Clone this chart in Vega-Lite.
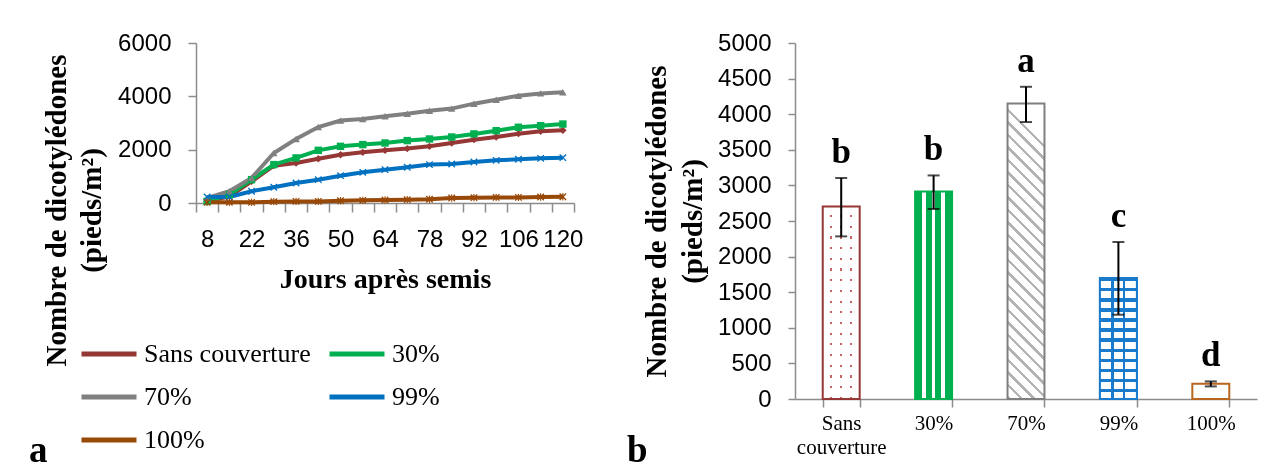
{
  "$schema": "https://vega.github.io/schema/vega-lite/v6.json",
  "autosize": {"type": "pad"},
  "padding": {"left": 29, "top": 31, "right": 17, "bottom": 0},
  "background": "white",
  "bounds": "flush",
  "spacing": 221,
  "config": {
    "view": {"stroke": null},
    "axis": {"domainColor": "#8c8c8c", "tickColor": "#8c8c8c", "domainWidth": 1.5, "tickWidth": 1.5, "grid": false, "labelColor": "black", "titleColor": "black", "labelFlush": false, "labelOverlap": false, "labelBound": false, "labelFont": "Liberation Sans", "labelFontSize": 24, "titleFont": "Liberation Serif", "titleFontWeight": "bold"},
    "legend": {"labelFont": "Liberation Serif", "labelFontSize": 26, "labelColor": "black"}
  },
  "datasets": {
    "lignes": [
      {"jour": 8, "traitement": "Sans couverture", "densite": 60},
      {"jour": 15, "traitement": "Sans couverture", "densite": 250},
      {"jour": 22, "traitement": "Sans couverture", "densite": 810},
      {"jour": 29, "traitement": "Sans couverture", "densite": 1400},
      {"jour": 36, "traitement": "Sans couverture", "densite": 1500},
      {"jour": 43, "traitement": "Sans couverture", "densite": 1660},
      {"jour": 50, "traitement": "Sans couverture", "densite": 1810},
      {"jour": 57, "traitement": "Sans couverture", "densite": 1900},
      {"jour": 64, "traitement": "Sans couverture", "densite": 1975},
      {"jour": 71, "traitement": "Sans couverture", "densite": 2040},
      {"jour": 78, "traitement": "Sans couverture", "densite": 2125},
      {"jour": 85, "traitement": "Sans couverture", "densite": 2250},
      {"jour": 92, "traitement": "Sans couverture", "densite": 2375},
      {"jour": 99, "traitement": "Sans couverture", "densite": 2475},
      {"jour": 106, "traitement": "Sans couverture", "densite": 2600},
      {"jour": 113, "traitement": "Sans couverture", "densite": 2690},
      {"jour": 120, "traitement": "Sans couverture", "densite": 2725},
      {"jour": 8, "traitement": "30%", "densite": 60},
      {"jour": 15, "traitement": "30%", "densite": 310},
      {"jour": 22, "traitement": "30%", "densite": 875},
      {"jour": 29, "traitement": "30%", "densite": 1440},
      {"jour": 36, "traitement": "30%", "densite": 1690},
      {"jour": 43, "traitement": "30%", "densite": 1975},
      {"jour": 50, "traitement": "30%", "densite": 2125},
      {"jour": 57, "traitement": "30%", "densite": 2190},
      {"jour": 64, "traitement": "30%", "densite": 2250},
      {"jour": 71, "traitement": "30%", "densite": 2340},
      {"jour": 78, "traitement": "30%", "densite": 2400},
      {"jour": 85, "traitement": "30%", "densite": 2475},
      {"jour": 92, "traitement": "30%", "densite": 2590},
      {"jour": 99, "traitement": "30%", "densite": 2710},
      {"jour": 106, "traitement": "30%", "densite": 2840},
      {"jour": 113, "traitement": "30%", "densite": 2900},
      {"jour": 120, "traitement": "30%", "densite": 2960},
      {"jour": 8, "traitement": "70%", "densite": 190},
      {"jour": 15, "traitement": "70%", "densite": 440},
      {"jour": 22, "traitement": "70%", "densite": 940},
      {"jour": 29, "traitement": "70%", "densite": 1875},
      {"jour": 36, "traitement": "70%", "densite": 2400},
      {"jour": 43, "traitement": "70%", "densite": 2850},
      {"jour": 50, "traitement": "70%", "densite": 3090},
      {"jour": 57, "traitement": "70%", "densite": 3150},
      {"jour": 64, "traitement": "70%", "densite": 3250},
      {"jour": 71, "traitement": "70%", "densite": 3350},
      {"jour": 78, "traitement": "70%", "densite": 3460},
      {"jour": 85, "traitement": "70%", "densite": 3540},
      {"jour": 92, "traitement": "70%", "densite": 3725},
      {"jour": 99, "traitement": "70%", "densite": 3875},
      {"jour": 106, "traitement": "70%", "densite": 4025},
      {"jour": 113, "traitement": "70%", "densite": 4110},
      {"jour": 120, "traitement": "70%", "densite": 4150},
      {"jour": 8, "traitement": "99%", "densite": 225},
      {"jour": 15, "traitement": "99%", "densite": 225},
      {"jour": 22, "traitement": "99%", "densite": 440},
      {"jour": 29, "traitement": "99%", "densite": 590},
      {"jour": 36, "traitement": "99%", "densite": 750},
      {"jour": 43, "traitement": "99%", "densite": 875},
      {"jour": 50, "traitement": "99%", "densite": 1025},
      {"jour": 57, "traitement": "99%", "densite": 1150},
      {"jour": 64, "traitement": "99%", "densite": 1250},
      {"jour": 71, "traitement": "99%", "densite": 1340},
      {"jour": 78, "traitement": "99%", "densite": 1440},
      {"jour": 85, "traitement": "99%", "densite": 1460},
      {"jour": 92, "traitement": "99%", "densite": 1540},
      {"jour": 99, "traitement": "99%", "densite": 1600},
      {"jour": 106, "traitement": "99%", "densite": 1640},
      {"jour": 113, "traitement": "99%", "densite": 1675},
      {"jour": 120, "traitement": "99%", "densite": 1700},
      {"jour": 8, "traitement": "100%", "densite": 25},
      {"jour": 15, "traitement": "100%", "densite": 25},
      {"jour": 22, "traitement": "100%", "densite": 25},
      {"jour": 29, "traitement": "100%", "densite": 50},
      {"jour": 36, "traitement": "100%", "densite": 60},
      {"jour": 43, "traitement": "100%", "densite": 60},
      {"jour": 50, "traitement": "100%", "densite": 85},
      {"jour": 57, "traitement": "100%", "densite": 100},
      {"jour": 64, "traitement": "100%", "densite": 110},
      {"jour": 71, "traitement": "100%", "densite": 125},
      {"jour": 78, "traitement": "100%", "densite": 140},
      {"jour": 85, "traitement": "100%", "densite": 190},
      {"jour": 92, "traitement": "100%", "densite": 200},
      {"jour": 99, "traitement": "100%", "densite": 210},
      {"jour": 106, "traitement": "100%", "densite": 210},
      {"jour": 113, "traitement": "100%", "densite": 225},
      {"jour": 120, "traitement": "100%", "densite": 235}
    ],
    "barres": [
      {"traitement": "Sans couverture", "densite": 2705, "bas": 2284, "haut": 3104, "lettre": "b"},
      {"traitement": "30%", "densite": 2916, "bas": 2669, "haut": 3140, "lettre": "b"},
      {"traitement": "70%", "densite": 4150, "bas": 3890, "haut": 4385, "lettre": "a"},
      {"traitement": "99%", "densite": 1700, "bas": 1184, "haut": 2205, "lettre": "c"},
      {"traitement": "100%", "densite": 215, "bas": 177, "haut": 247, "lettre": "d"}
    ]
  },
  "hconcat": [
    {
      "width": 378,
      "height": 160,
      "title": {"text": "a", "orient": "bottom", "anchor": "start", "frame": "group", "dx": -167, "offset": 9, "baseline": "alphabetic", "font": "Liberation Serif", "fontSize": 37, "fontWeight": "bold", "color": "black"},
      "data": {"name": "lignes"},
      "layer": [
        {
          "mark": {"type": "line", "strokeWidth": 4},
          "encoding": {
            "x": {"field": "jour", "type": "quantitative", "scale": {"domain": [4.5, 123.5], "nice": false, "zero": false},
              "axis": {"orient": "bottom", "values": [4.5, 11.5, 18.5, 25.5, 32.5, 39.5, 46.5, 53.5, 60.5, 67.5, 74.5, 81.5, 88.5, 95.5, 102.5, 109.5, 116.5, 123.5], "labels": false, "tickSize": 9, "title": null}},
            "y": {"field": "densite", "type": "quantitative", "scale": {"domain": [0, 6000], "nice": false},
              "axis": {"values": [0, 2000, 4000, 6000], "format": "d", "tickSize": 8, "labelPadding": 17, "title": ["Nombre de dicotylédones", "(pieds/m²)"], "titleFontSize": 29, "titleLineHeight": 35, "titlePadding": 11, "titleY": 167}},
            "color": {"field": "traitement", "type": "nominal",
              "scale": {"domain": ["Sans couverture", "30%", "70%", "99%", "100%"], "range": ["#953735", "#00B050", "#808080", "#0070C0", "#984807"]},
              "legend": {"orient": "none", "legendX": -117, "legendY": 281, "columns": 2, "values": ["Sans couverture", "70%", "100%", "30%", "99%"], "title": null, "symbolType": "stroke", "symbolSize": 3025, "symbolStrokeWidth": 5, "labelFont": "Liberation Serif", "labelFontSize": 26, "labelColor": "black", "labelOffset": 5, "rowPadding": -10, "columnPadding": 8, "labelLimit": 400,
                "encode": {"labels": {"update": {"font": {"value": "Liberation Serif"}, "fontSize": {"value": 26}, "fill": {"value": "black"}}}}}}
          }
        },
        {
          "mark": {"type": "point", "filled": true, "opacity": 1, "size": 55},
          "encoding": {
            "x": {"field": "jour", "type": "quantitative",
              "axis": {"orient": "bottom", "values": [8, 22, 36, 50, 64, 78, 92, 106, 120], "ticks": false, "tickSize": 0, "domain": false, "labelPadding": 24, "title": "Jours après semis", "titleFontSize": 28, "titlePadding": 14}},
            "y": {"field": "densite", "type": "quantitative"},
            "color": {"field": "traitement", "type": "nominal", "legend": null},
            "shape": {"field": "traitement", "type": "nominal", "legend": null,
              "scale": {"domain": ["Sans couverture", "30%", "70%", "99%", "100%"], "range": ["diamond", "square", "triangle-up", "M-1,-0.75L-0.75,-1L0,-0.25L0.75,-1L1,-0.75L0.25,0L1,0.75L0.75,1L0,0.25L-0.75,1L-1,0.75L-0.25,0Z", "M-1,-0.75L-0.75,-1L0,-0.25L0.75,-1L1,-0.75L0.25,0L1,0.75L0.75,1L0,0.25L-0.75,1L-1,0.75L-0.25,0ZM-0.15,-1L0.15,-1L0.15,1L-0.15,1Z"]}}
          }
        }
      ],
      "resolve": {"axis": {"x": "independent"}, "legend": {"color": "independent", "shape": "independent"}}
    },
    {
      "width": 462,
      "height": 356,
      "title": {"text": "b", "orient": "bottom", "anchor": "start", "frame": "group", "dx": -168, "offset": 5, "baseline": "alphabetic", "font": "Liberation Serif", "fontSize": 37, "fontWeight": "bold", "color": "black"},
      "data": {"name": "barres"},
      "encoding": {
        "x": {"field": "traitement", "type": "nominal", "sort": null,
          "scale": {"domain": ["Sans couverture", "30%", "70%", "99%", "100%"], "paddingInner": 0.6, "paddingOuter": 0.3},
          "axis": {"title": null, "labelAngle": 0, "tickBand": "extent", "tickSize": 8, "labelPadding": 5, "labelFont": "Liberation Serif", "labelFontSize": 21, "labelLineHeight": 24, "labelExpr": "split(datum.label, ' ')"}}
      },
      "resolve": {"axis": {"y": "independent"}},
      "layer": [
        {
          "transform": [{"filter": "datum.traitement === 'Sans couverture'"}],
          "mark": {"type": "bar", "strokeWidth": 0,
            "fill": {"gradient": "linear", "x1": 0, "y1": 0, "x2": 0, "y2": 1, "stops": [
              {"offset": 0, "color": "#ffffff"}, {"offset": 0.0444, "color": "#ffffff"}, {"offset": 0.0444, "color": "#c86464"}, {"offset": 0.0556, "color": "#c86464"},
              {"offset": 0.0556, "color": "#ffffff"}, {"offset": 0.1, "color": "#ffffff"}, {"offset": 0.1, "color": "#c86464"}, {"offset": 0.1111, "color": "#c86464"},
              {"offset": 0.1111, "color": "#ffffff"}, {"offset": 0.1556, "color": "#ffffff"}, {"offset": 0.1556, "color": "#c86464"}, {"offset": 0.1667, "color": "#c86464"},
              {"offset": 0.1667, "color": "#ffffff"}, {"offset": 0.2111, "color": "#ffffff"}, {"offset": 0.2111, "color": "#c86464"}, {"offset": 0.2222, "color": "#c86464"},
              {"offset": 0.2222, "color": "#ffffff"}, {"offset": 0.2667, "color": "#ffffff"}, {"offset": 0.2667, "color": "#c86464"}, {"offset": 0.2778, "color": "#c86464"},
              {"offset": 0.2778, "color": "#ffffff"}, {"offset": 0.3222, "color": "#ffffff"}, {"offset": 0.3222, "color": "#c86464"}, {"offset": 0.3333, "color": "#c86464"},
              {"offset": 0.3333, "color": "#ffffff"}, {"offset": 0.3778, "color": "#ffffff"}, {"offset": 0.3778, "color": "#c86464"}, {"offset": 0.3889, "color": "#c86464"},
              {"offset": 0.3889, "color": "#ffffff"}, {"offset": 0.4333, "color": "#ffffff"}, {"offset": 0.4333, "color": "#c86464"}, {"offset": 0.4444, "color": "#c86464"},
              {"offset": 0.4444, "color": "#ffffff"}, {"offset": 0.4889, "color": "#ffffff"}, {"offset": 0.4889, "color": "#c86464"}, {"offset": 0.5, "color": "#c86464"},
              {"offset": 0.5, "color": "#ffffff"}, {"offset": 0.5444, "color": "#ffffff"}, {"offset": 0.5444, "color": "#c86464"}, {"offset": 0.5556, "color": "#c86464"},
              {"offset": 0.5556, "color": "#ffffff"}, {"offset": 0.6, "color": "#ffffff"}, {"offset": 0.6, "color": "#c86464"}, {"offset": 0.6111, "color": "#c86464"},
              {"offset": 0.6111, "color": "#ffffff"}, {"offset": 0.6556, "color": "#ffffff"}, {"offset": 0.6556, "color": "#c86464"}, {"offset": 0.6667, "color": "#c86464"},
              {"offset": 0.6667, "color": "#ffffff"}, {"offset": 0.7111, "color": "#ffffff"}, {"offset": 0.7111, "color": "#c86464"}, {"offset": 0.7222, "color": "#c86464"},
              {"offset": 0.7222, "color": "#ffffff"}, {"offset": 0.7667, "color": "#ffffff"}, {"offset": 0.7667, "color": "#c86464"}, {"offset": 0.7778, "color": "#c86464"},
              {"offset": 0.7778, "color": "#ffffff"}, {"offset": 0.8222, "color": "#ffffff"}, {"offset": 0.8222, "color": "#c86464"}, {"offset": 0.8333, "color": "#c86464"},
              {"offset": 0.8333, "color": "#ffffff"}, {"offset": 0.8778, "color": "#ffffff"}, {"offset": 0.8778, "color": "#c86464"}, {"offset": 0.8889, "color": "#c86464"},
              {"offset": 0.8889, "color": "#ffffff"}, {"offset": 0.9333, "color": "#ffffff"}, {"offset": 0.9333, "color": "#c86464"}, {"offset": 0.9444, "color": "#c86464"},
              {"offset": 0.9444, "color": "#ffffff"}, {"offset": 0.9889, "color": "#ffffff"}, {"offset": 0.9889, "color": "#c86464"}, {"offset": 1, "color": "#c86464"}]}},
          "encoding": {"y": {"field": "densite", "type": "quantitative", "scale": {"domain": [0, 5000], "nice": false},
            "axis": {"values": [0, 500, 1000, 1500, 2000, 2500, 3000, 3500, 4000, 4500, 5000], "format": "d", "tickSize": 7, "labelPadding": 17, "title": ["Nombre de dicotylédones", "(pieds/m²)"], "titleFontSize": 29, "titleLineHeight": 36, "titlePadding": 10}}}
        },
        {
          "transform": [{"filter": "datum.traitement === 'Sans couverture'"}],
          "mark": {"type": "bar", "strokeWidth": 0, "blend": "lighten",
            "fill": {"gradient": "linear", "x1": 0, "y1": 0, "x2": 1, "y2": 0, "stops": [
              {"offset": 0, "color": "#ffffff"}, {"offset": 0.2, "color": "#ffffff"}, {"offset": 0.2, "color": "#c86464"}, {"offset": 0.26, "color": "#c86464"},
              {"offset": 0.26, "color": "#ffffff"}, {"offset": 0.47, "color": "#ffffff"}, {"offset": 0.47, "color": "#c86464"}, {"offset": 0.53, "color": "#c86464"},
              {"offset": 0.53, "color": "#ffffff"}, {"offset": 0.74, "color": "#ffffff"}, {"offset": 0.74, "color": "#c86464"}, {"offset": 0.8, "color": "#c86464"},
              {"offset": 0.8, "color": "#ffffff"}, {"offset": 1, "color": "#ffffff"}]}},
          "encoding": {"y": {"field": "densite", "type": "quantitative", "axis": null}}
        },
        {
          "transform": [{"filter": "datum.traitement === 'Sans couverture'"}],
          "mark": {"type": "bar", "fill": null, "fillOpacity": 0, "stroke": "#953735", "strokeWidth": 2},
          "encoding": {"y": {"field": "densite", "type": "quantitative", "axis": null}}
        },
        {
          "transform": [{"filter": "datum.traitement === '30%'"}],
          "mark": {"type": "bar", "stroke": "#00B050", "strokeWidth": 2,
            "fill": {"gradient": "linear", "x1": 0, "y1": 0, "x2": 1, "y2": 0, "stops": [
              {"offset": 0, "color": "#00B050"}, {"offset": 0.18, "color": "#00B050"}, {"offset": 0.18, "color": "#ffffff"}, {"offset": 0.29, "color": "#ffffff"},
              {"offset": 0.29, "color": "#00B050"}, {"offset": 0.45, "color": "#00B050"}, {"offset": 0.45, "color": "#ffffff"}, {"offset": 0.55, "color": "#ffffff"},
              {"offset": 0.55, "color": "#00B050"}, {"offset": 0.71, "color": "#00B050"}, {"offset": 0.71, "color": "#ffffff"}, {"offset": 0.82, "color": "#ffffff"},
              {"offset": 0.82, "color": "#00B050"}, {"offset": 1, "color": "#00B050"}]}},
          "encoding": {"y": {"field": "densite", "type": "quantitative", "axis": null}}
        },
        {
          "transform": [{"filter": "datum.traitement === '70%'"}],
          "mark": {"type": "bar", "stroke": "#7f7f7f", "strokeWidth": 2,
            "fill": {"gradient": "linear", "x1": 0.125, "y1": 0, "x2": 0, "y2": 1, "stops": [
              {"offset": 0, "color": "#ffffff"}, {"offset": 0.0292, "color": "#ffffff"}, {"offset": 0.0292, "color": "#b3b3b3"}, {"offset": 0.0417, "color": "#b3b3b3"},
              {"offset": 0.0417, "color": "#ffffff"}, {"offset": 0.0708, "color": "#ffffff"}, {"offset": 0.0708, "color": "#b3b3b3"}, {"offset": 0.0833, "color": "#b3b3b3"},
              {"offset": 0.0833, "color": "#ffffff"}, {"offset": 0.1125, "color": "#ffffff"}, {"offset": 0.1125, "color": "#b3b3b3"}, {"offset": 0.125, "color": "#b3b3b3"},
              {"offset": 0.125, "color": "#ffffff"}, {"offset": 0.1542, "color": "#ffffff"}, {"offset": 0.1542, "color": "#b3b3b3"}, {"offset": 0.1667, "color": "#b3b3b3"},
              {"offset": 0.1667, "color": "#ffffff"}, {"offset": 0.1958, "color": "#ffffff"}, {"offset": 0.1958, "color": "#b3b3b3"}, {"offset": 0.2083, "color": "#b3b3b3"},
              {"offset": 0.2083, "color": "#ffffff"}, {"offset": 0.2375, "color": "#ffffff"}, {"offset": 0.2375, "color": "#b3b3b3"}, {"offset": 0.25, "color": "#b3b3b3"},
              {"offset": 0.25, "color": "#ffffff"}, {"offset": 0.2792, "color": "#ffffff"}, {"offset": 0.2792, "color": "#b3b3b3"}, {"offset": 0.2917, "color": "#b3b3b3"},
              {"offset": 0.2917, "color": "#ffffff"}, {"offset": 0.3208, "color": "#ffffff"}, {"offset": 0.3208, "color": "#b3b3b3"}, {"offset": 0.3333, "color": "#b3b3b3"},
              {"offset": 0.3333, "color": "#ffffff"}, {"offset": 0.3625, "color": "#ffffff"}, {"offset": 0.3625, "color": "#b3b3b3"}, {"offset": 0.375, "color": "#b3b3b3"},
              {"offset": 0.375, "color": "#ffffff"}, {"offset": 0.4042, "color": "#ffffff"}, {"offset": 0.4042, "color": "#b3b3b3"}, {"offset": 0.4167, "color": "#b3b3b3"},
              {"offset": 0.4167, "color": "#ffffff"}, {"offset": 0.4458, "color": "#ffffff"}, {"offset": 0.4458, "color": "#b3b3b3"}, {"offset": 0.4583, "color": "#b3b3b3"},
              {"offset": 0.4583, "color": "#ffffff"}, {"offset": 0.4875, "color": "#ffffff"}, {"offset": 0.4875, "color": "#b3b3b3"}, {"offset": 0.5, "color": "#b3b3b3"},
              {"offset": 0.5, "color": "#ffffff"}, {"offset": 0.5292, "color": "#ffffff"}, {"offset": 0.5292, "color": "#b3b3b3"}, {"offset": 0.5417, "color": "#b3b3b3"},
              {"offset": 0.5417, "color": "#ffffff"}, {"offset": 0.5708, "color": "#ffffff"}, {"offset": 0.5708, "color": "#b3b3b3"}, {"offset": 0.5833, "color": "#b3b3b3"},
              {"offset": 0.5833, "color": "#ffffff"}, {"offset": 0.6125, "color": "#ffffff"}, {"offset": 0.6125, "color": "#b3b3b3"}, {"offset": 0.625, "color": "#b3b3b3"},
              {"offset": 0.625, "color": "#ffffff"}, {"offset": 0.6542, "color": "#ffffff"}, {"offset": 0.6542, "color": "#b3b3b3"}, {"offset": 0.6667, "color": "#b3b3b3"},
              {"offset": 0.6667, "color": "#ffffff"}, {"offset": 0.6958, "color": "#ffffff"}, {"offset": 0.6958, "color": "#b3b3b3"}, {"offset": 0.7083, "color": "#b3b3b3"},
              {"offset": 0.7083, "color": "#ffffff"}, {"offset": 0.7375, "color": "#ffffff"}, {"offset": 0.7375, "color": "#b3b3b3"}, {"offset": 0.75, "color": "#b3b3b3"},
              {"offset": 0.75, "color": "#ffffff"}, {"offset": 0.7792, "color": "#ffffff"}, {"offset": 0.7792, "color": "#b3b3b3"}, {"offset": 0.7917, "color": "#b3b3b3"},
              {"offset": 0.7917, "color": "#ffffff"}, {"offset": 0.8208, "color": "#ffffff"}, {"offset": 0.8208, "color": "#b3b3b3"}, {"offset": 0.8333, "color": "#b3b3b3"},
              {"offset": 0.8333, "color": "#ffffff"}, {"offset": 0.8625, "color": "#ffffff"}, {"offset": 0.8625, "color": "#b3b3b3"}, {"offset": 0.875, "color": "#b3b3b3"},
              {"offset": 0.875, "color": "#ffffff"}, {"offset": 0.9042, "color": "#ffffff"}, {"offset": 0.9042, "color": "#b3b3b3"}, {"offset": 0.9167, "color": "#b3b3b3"},
              {"offset": 0.9167, "color": "#ffffff"}, {"offset": 0.9458, "color": "#ffffff"}, {"offset": 0.9458, "color": "#b3b3b3"}, {"offset": 0.9583, "color": "#b3b3b3"},
              {"offset": 0.9583, "color": "#ffffff"}, {"offset": 0.9875, "color": "#ffffff"}, {"offset": 0.9875, "color": "#b3b3b3"}, {"offset": 1, "color": "#b3b3b3"}]}},
          "encoding": {"y": {"field": "densite", "type": "quantitative", "axis": null}}
        },
        {
          "transform": [{"filter": "datum.traitement === '99%'"}],
          "mark": {"type": "bar", "stroke": "#1a7acb", "strokeWidth": 2,
            "fill": {"gradient": "linear", "x1": 0, "y1": 0, "x2": 0, "y2": 1, "stops": [
              {"offset": 0, "color": "#1a7acb"}, {"offset": 0.028, "color": "#1a7acb"}, {"offset": 0.028, "color": "#ffffff"}, {"offset": 0.0833, "color": "#ffffff"},
              {"offset": 0.0833, "color": "#1a7acb"}, {"offset": 0.1113, "color": "#1a7acb"}, {"offset": 0.1113, "color": "#ffffff"}, {"offset": 0.1667, "color": "#ffffff"},
              {"offset": 0.1667, "color": "#1a7acb"}, {"offset": 0.1947, "color": "#1a7acb"}, {"offset": 0.1947, "color": "#ffffff"}, {"offset": 0.25, "color": "#ffffff"},
              {"offset": 0.25, "color": "#1a7acb"}, {"offset": 0.278, "color": "#1a7acb"}, {"offset": 0.278, "color": "#ffffff"}, {"offset": 0.3333, "color": "#ffffff"},
              {"offset": 0.3333, "color": "#1a7acb"}, {"offset": 0.3613, "color": "#1a7acb"}, {"offset": 0.3613, "color": "#ffffff"}, {"offset": 0.4167, "color": "#ffffff"},
              {"offset": 0.4167, "color": "#1a7acb"}, {"offset": 0.4447, "color": "#1a7acb"}, {"offset": 0.4447, "color": "#ffffff"}, {"offset": 0.5, "color": "#ffffff"},
              {"offset": 0.5, "color": "#1a7acb"}, {"offset": 0.528, "color": "#1a7acb"}, {"offset": 0.528, "color": "#ffffff"}, {"offset": 0.5833, "color": "#ffffff"},
              {"offset": 0.5833, "color": "#1a7acb"}, {"offset": 0.6113, "color": "#1a7acb"}, {"offset": 0.6113, "color": "#ffffff"}, {"offset": 0.6667, "color": "#ffffff"},
              {"offset": 0.6667, "color": "#1a7acb"}, {"offset": 0.6947, "color": "#1a7acb"}, {"offset": 0.6947, "color": "#ffffff"}, {"offset": 0.75, "color": "#ffffff"},
              {"offset": 0.75, "color": "#1a7acb"}, {"offset": 0.778, "color": "#1a7acb"}, {"offset": 0.778, "color": "#ffffff"}, {"offset": 0.8333, "color": "#ffffff"},
              {"offset": 0.8333, "color": "#1a7acb"}, {"offset": 0.8613, "color": "#1a7acb"}, {"offset": 0.8613, "color": "#ffffff"}, {"offset": 0.9167, "color": "#ffffff"},
              {"offset": 0.9167, "color": "#1a7acb"}, {"offset": 0.9447, "color": "#1a7acb"}, {"offset": 0.9447, "color": "#ffffff"}, {"offset": 1, "color": "#ffffff"}]}},
          "encoding": {"y": {"field": "densite", "type": "quantitative", "axis": null}}
        },
        {
          "transform": [{"filter": "datum.traitement === '99%'"}],
          "mark": {"type": "bar", "stroke": "#1a7acb", "strokeWidth": 2, "blend": "darken",
            "fill": {"gradient": "linear", "x1": 0, "y1": 0, "x2": 1, "y2": 0, "stops": [
              {"offset": 0, "color": "#ffffff"}, {"offset": 0.31, "color": "#ffffff"}, {"offset": 0.31, "color": "#1a7acb"}, {"offset": 0.38, "color": "#1a7acb"},
              {"offset": 0.38, "color": "#ffffff"}, {"offset": 0.62, "color": "#ffffff"}, {"offset": 0.62, "color": "#1a7acb"}, {"offset": 0.69, "color": "#1a7acb"},
              {"offset": 0.69, "color": "#ffffff"}, {"offset": 1, "color": "#ffffff"}]}},
          "encoding": {"y": {"field": "densite", "type": "quantitative", "axis": null}}
        },
        {
          "transform": [{"filter": "datum.traitement === '100%'"}],
          "mark": {"type": "bar", "fill": "white", "stroke": "#b8661f", "strokeWidth": 2},
          "encoding": {"y": {"field": "densite", "type": "quantitative", "axis": null}}
        },
        {
          "mark": {"type": "rule", "color": "black", "strokeWidth": 2},
          "encoding": {"y": {"field": "bas", "type": "quantitative", "axis": null}, "y2": {"field": "haut"}}
        },
        {
          "mark": {"type": "tick", "color": "black", "thickness": 2, "size": 12},
          "encoding": {"y": {"field": "bas", "type": "quantitative", "axis": null}}
        },
        {
          "mark": {"type": "tick", "color": "black", "thickness": 2, "size": 12},
          "encoding": {"y": {"field": "haut", "type": "quantitative", "axis": null}}
        },
        {
          "mark": {"type": "text", "baseline": "bottom", "dy": -8, "font": "Liberation Serif", "fontWeight": "bold", "fontSize": 35, "color": "black"},
          "encoding": {"y": {"field": "haut", "type": "quantitative", "axis": null}, "text": {"field": "lettre"}}
        }
      ]
    }
  ]
}
